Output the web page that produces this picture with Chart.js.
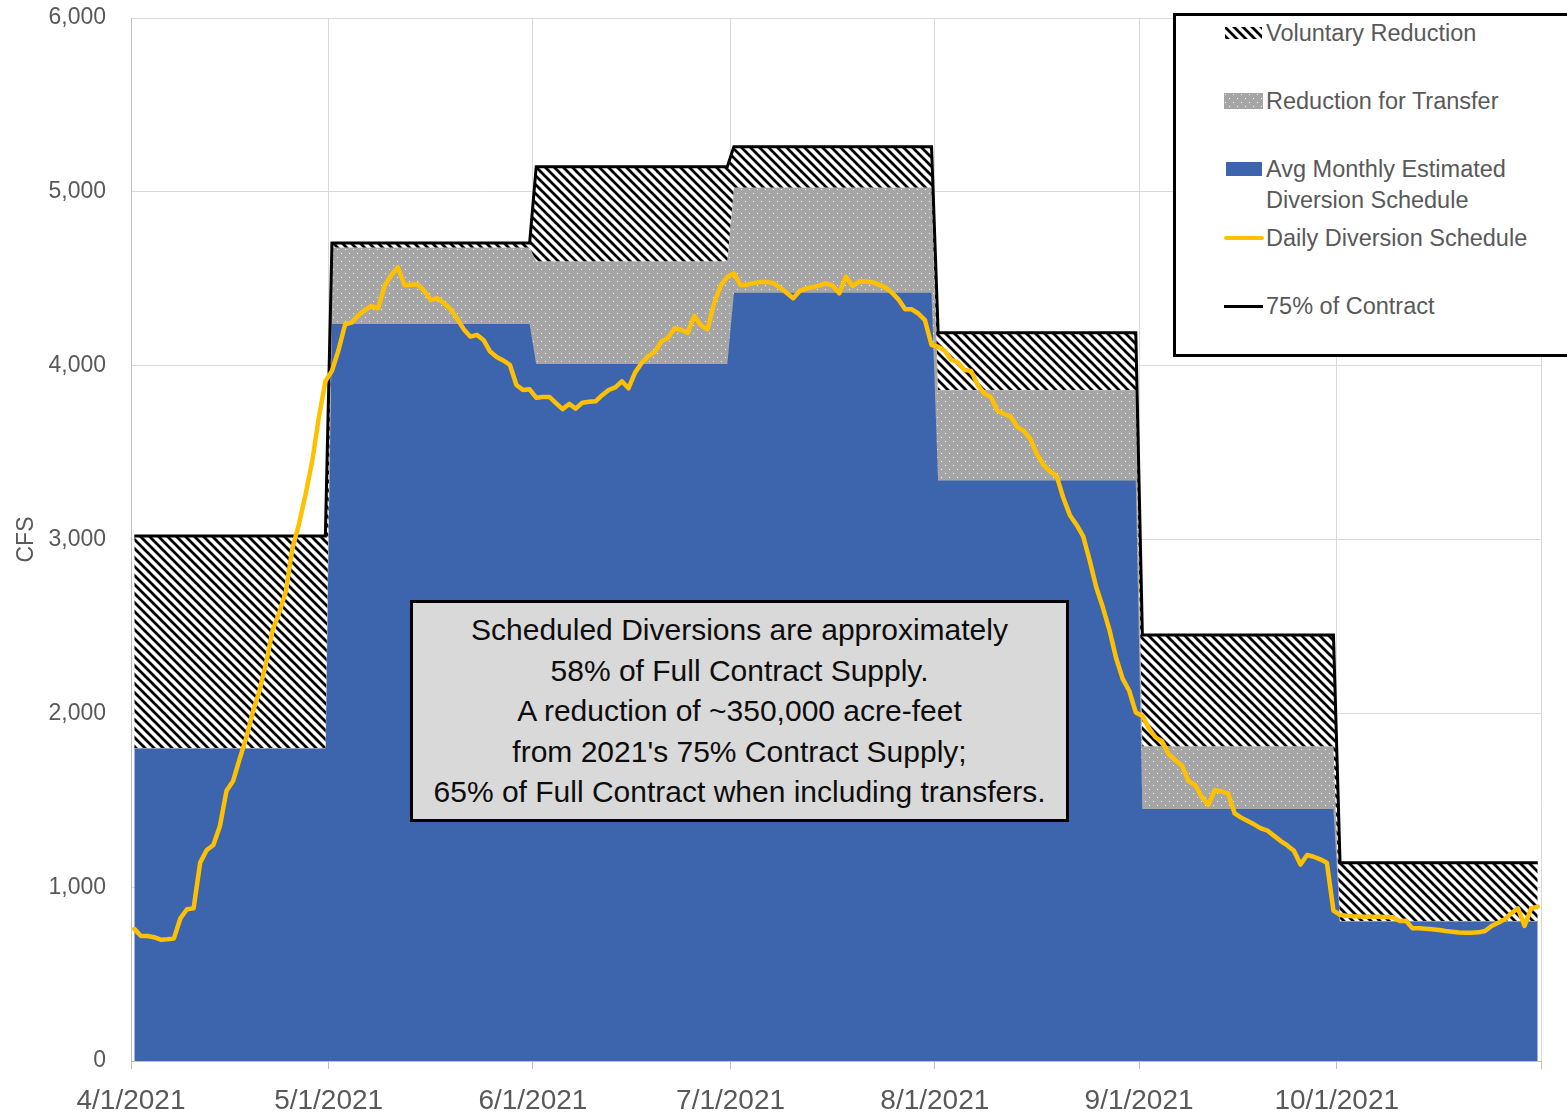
<!DOCTYPE html>
<html>
<head>
<meta charset="utf-8">
<script src="https://cdn.jsdelivr.net/npm/chart.js@4.4.1/dist/chart.umd.min.js"></script>
<style>
body { margin: 0; background: #fff; overflow: hidden; }
#wrap { position: relative; width: 1567px; height: 1115px; overflow: hidden; font-family: 'Liberation Sans', Arial, sans-serif; }
#chart { position: absolute; left: 0; top: 0; }
#legendBox { position: absolute; left: 1173px; top: 13px; width: 420px; height: 338px; border: 3px solid #000; background: #fff; }
.sw { position: absolute; }
.lt { position: absolute; left: 1266px; font-size: 23.5px; line-height: 26px; color: #595959; white-space: nowrap; }
#note { position: absolute; left: 410px; top: 600px; width: 653px; height: 216px; border: 3px solid #000; background: #d9d9d9; }
#noteText { padding-top: 7px; font-size: 30px; line-height: 40.5px; text-align: center; color: #0d0d0d; white-space: nowrap; }
</style>
</head>
<body>
<div id="wrap">
  <canvas id="chart" width="1567" height="1115"></canvas>
  <div id="note"><div id="noteText">Scheduled Diversions are approximately<br>58% of Full Contract Supply.<br>A reduction of ~350,000 acre-feet<br>from 2021's 75% Contract Supply;<br>65% of Full Contract when including transfers.</div></div>
  <div id="legendBox"></div>
  <div class="sw" id="swHatch" style="left:1225px;top:27px;width:37px;height:12px"></div>
  <div class="lt" style="top:20px">Voluntary Reduction</div>
  <div class="sw" id="swDots" style="left:1224px;top:93px;width:39px;height:16px"></div>
  <div class="lt" style="top:88px">Reduction for Transfer</div>
  <div class="sw" style="left:1226px;top:162px;width:36px;height:14px;background:#3d65ad"></div>
  <div class="lt" style="top:156px">Avg Monthly Estimated</div>
  <div class="lt" style="top:187px">Diversion Schedule</div>
  <div class="sw" style="left:1224px;top:236px;width:40px;height:4px;border-radius:2px;background:#ffc000"></div>
  <div class="lt" style="top:225px">Daily Diversion Schedule</div>
  <div class="sw" style="left:1224px;top:305px;width:39px;height:3px;background:#000"></div>
  <div class="lt" style="top:293px">75% of Contract</div>
</div>
<script>
// month axis, 4/1/2021 .. 10/31/2021
const monthLabels = ['4/1/2021', '5/1/2021', '6/1/2021', '7/1/2021', '8/1/2021', '9/1/2021', '10/1/2021'];
const monthDays = [30, 31, 30, 31, 31, 30, 31];

// monthly levels (cfs)
const avgMonthly = [1800, 4240, 4010, 4420, 3340, 1450, 805];
const transferReduction = [0, 440, 590, 605, 520, 360, 0];
const contract75 = [3020, 4705, 5145, 5260, 4190, 2450, 1140];

// daily diversion schedule (cfs), one value per day from 4/1
const dailySchedule = [
  760, 719, 719, 712, 698, 700, 704, 821, 873, 878,
  1141, 1214, 1243, 1352, 1555, 1611, 1740, 1860, 2010, 2130,
  2290, 2480, 2580, 2700, 2950, 3090, 3260, 3450, 3700, 3910,
  3970, 4090, 4238, 4248, 4290, 4320, 4343, 4330, 4460, 4520,
  4566, 4464, 4466, 4468, 4430, 4378, 4388, 4360, 4325, 4270,
  4210, 4167, 4177, 4148, 4081, 4050, 4030, 4005, 3889, 3860,
  3864, 3816, 3820, 3820, 3785, 3750, 3780, 3753, 3787, 3792,
  3795, 3830, 3860, 3875, 3910, 3870, 3960, 4015, 4055, 4080,
  4138, 4160, 4215, 4205, 4190, 4286, 4232, 4209, 4359, 4460,
  4510, 4531, 4464, 4466, 4475, 4482, 4482, 4475, 4450, 4420,
  4388, 4430, 4445, 4452, 4462, 4474, 4460, 4416, 4512, 4458,
  4484, 4484, 4480, 4466, 4450, 4420, 4380, 4324, 4324, 4300,
  4262, 4119, 4109, 4085, 4035, 4018, 3975, 3970, 3890, 3840,
  3820, 3742, 3722, 3708, 3648, 3625, 3578, 3490, 3430, 3392,
  3365, 3240, 3140, 3085, 3020, 2880, 2725, 2610, 2480, 2320,
  2200, 2130, 2005, 1985, 1915, 1862, 1840, 1765, 1730, 1700,
  1610, 1588, 1520, 1473, 1559, 1550, 1540, 1425, 1400, 1380,
  1360, 1338, 1325, 1295, 1265, 1240, 1210, 1130, 1185, 1175,
  1160, 1141, 865, 840, 836, 833, 831, 830, 830, 830,
  829, 827, 806, 807, 763, 763, 761, 758, 753, 748,
  744, 739, 738, 738, 740, 748, 777, 795, 815, 850,
  878, 777, 878, 888
];

const monthStart = [];
let acc = 0;
monthDays.forEach(n => { monthStart.push(acc); acc += n; });
const totalDays = acc; // 11/1
const tickDays = monthStart.concat([totalDays]);

// points sit in the middle of each day
function stepPoints(levels) {
    const pts = [];
    levels.forEach((v, i) => {
        pts.push({x: monthStart[i] + 0.5, y: v});
        pts.push({x: monthStart[i] + monthDays[i] - 0.5, y: v});
    });
    return pts;
}
const transferTop = avgMonthly.map((v, i) => v + transferReduction[i]);
const dailyPts = dailySchedule.map((v, i) => ({x: i + 0.5, y: v}));

// fill patterns
const hatchTile = document.createElement('canvas');
hatchTile.width = 9; hatchTile.height = 9;
const hg = hatchTile.getContext('2d');
hg.fillStyle = '#fff';
hg.fillRect(0, 0, 9, 9);
hg.strokeStyle = '#000';
hg.lineWidth = 2.8;
hg.beginPath();
[-9, 0, 9].forEach(o => { hg.moveTo(o - 1, -1); hg.lineTo(o + 10, 10); });
hg.stroke();

const dotTile = document.createElement('canvas');
dotTile.width = 8; dotTile.height = 8;
const dg = dotTile.getContext('2d');
dg.fillStyle = '#a6a6a6';
dg.fillRect(0, 0, 8, 8);
dg.fillStyle = '#f4f4f4';
dg.fillRect(1, 1, 1, 1);
dg.fillRect(5, 5, 1, 1);

document.getElementById('swHatch').style.background = 'url(' + hatchTile.toDataURL() + ')';
document.getElementById('swDots').style.background = 'url(' + dotTile.toDataURL() + ')';

Chart.defaults.font.family = "'Liberation Sans', Arial, sans-serif";
Chart.defaults.color = '#595959';

const ctx = document.getElementById('chart').getContext('2d');
const hatch = ctx.createPattern(hatchTile, 'repeat');
const dots = ctx.createPattern(dotTile, 'repeat');

const data = {
    datasets: [
        {
            label: 'Avg Monthly Estimated Diversion Schedule',
            data: stepPoints(avgMonthly),
            backgroundColor: '#3d65ad',
            borderColor: '#3d65ad',
            borderWidth: 1,
            fill: 'origin',
            order: 4
        },
        {
            label: 'Reduction for Transfer',
            data: stepPoints(transferTop),
            backgroundColor: dots,
            borderColor: '#c0c0c0',
            borderWidth: 1,
            fill: '-1',
            order: 3
        },
        {
            label: '75% of Contract',
            data: stepPoints(contract75),
            backgroundColor: hatch,
            borderColor: '#000',
            borderWidth: 3,
            fill: '-1',
            order: 2
        },
        {
            label: 'Daily Diversion Schedule',
            data: dailyPts,
            borderColor: '#ffc000',
            borderWidth: 4.5,
            borderJoinStyle: 'round',
            borderCapStyle: 'round',
            fill: false,
            order: 1
        }
    ]
};

const config = {
    type: 'line',
    data: data,
    options: {
        responsive: false,
        animation: false,
        devicePixelRatio: 1,
        layout: {padding: {top: 18, right: 26, bottom: 0, left: 0}},
        elements: {point: {radius: 0}, line: {tension: 0}},
        plugins: {legend: {display: false}, tooltip: {enabled: false}},
        scales: {
            x: {
                type: 'linear',
                min: 0,
                max: totalDays,
                afterBuildTicks: axis => { axis.ticks = tickDays.map(v => ({value: v})); },
                afterFit: axis => { axis.height = 54; axis.paddingLeft = 0; axis.paddingRight = 0; },
                ticks: {
                    autoSkip: false,
                    maxRotation: 0,
                    padding: 15,
                    font: {size: 28},
                    color: '#595959',
                    callback: v => {
                        const i = monthStart.indexOf(v);
                        return i >= 0 ? monthLabels[i] : '';
                    }
                },
                grid: {color: '#d9d9d9', tickColor: '#bfbfbf', tickLength: 8},
                border: {color: '#bfbfbf'}
            },
            y: {
                min: 0,
                max: 6000,
                // keep the plot top at the padding line
                afterFit: axis => { axis.width = 131; axis.paddingTop = 0; axis.paddingBottom = 0; },
                ticks: {
                    stepSize: 1000,
                    padding: 25,
                    font: {size: 23},
                    color: '#595959',
                    callback: v => v.toLocaleString('en-US')
                },
                grid: {color: '#d9d9d9', drawTicks: false},
                border: {color: '#bfbfbf'},
                title: {display: true, text: 'CFS', color: '#595959', font: {size: 23}, padding: {top: 13}}
            }
        }
    }
};
new Chart(ctx, config);
</script>
</body>
</html>
